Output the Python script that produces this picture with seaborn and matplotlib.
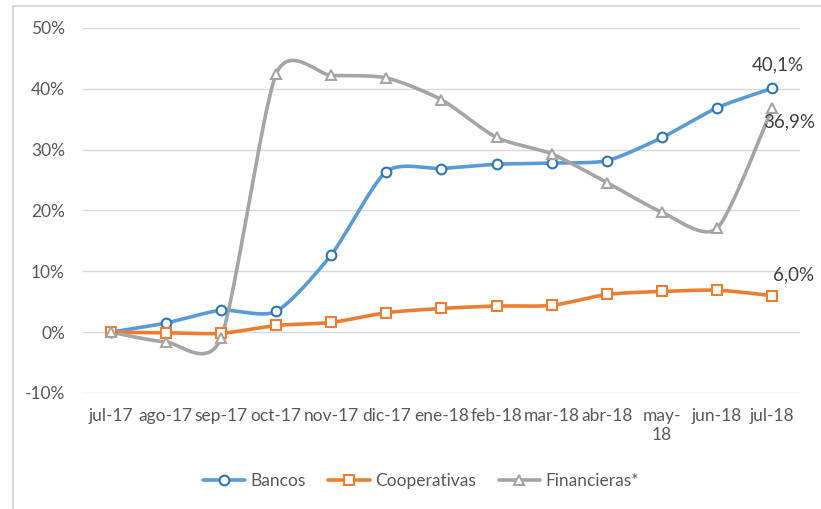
import matplotlib
matplotlib.use("Agg")
import matplotlib.pyplot as plt
import numpy as np
import pandas as pd
import seaborn as sns
from matplotlib.lines import Line2D
from matplotlib.patches import Rectangle
from matplotlib.ticker import FuncFormatter

# Data (percent change vs jul-17)
months = ['jul-17', 'ago-17', 'sep-17', 'oct-17', 'nov-17', 'dic-17', 'ene-18',
          'feb-18', 'mar-18', 'abr-18', 'may-\n18', 'jun-18', 'jul-18']
bancos = [0.0, 1.5, 3.6, 3.4, 12.7, 26.4, 26.9, 27.6, 27.8, 28.2, 32.0, 36.9, 40.1]
cooperativas = [0.0, -0.1, -0.2, 1.1, 1.6, 3.2, 3.9, 4.3, 4.4, 6.2, 6.7, 6.9, 6.0]
financieras = [0.0, -1.6, -1.0, 42.4, 42.2, 41.8, 38.2, 32.0, 29.3, 24.6, 19.7, 17.1, 36.9]

series = {'Bancos': bancos, 'Cooperativas': cooperativas, 'Financieras*': financieras}
colors = {'Bancos': '#5B9BD5', 'Cooperativas': '#ED7D31', 'Financieras*': '#A5A5A5'}
edges = {'Bancos': '#2E75B6', 'Cooperativas': '#ED7D31', 'Financieras*': '#A5A5A5'}
markers = {'Bancos': 'o', 'Cooperativas': 's', 'Financieras*': '^'}


def smooth(y, k=0.12, n=40):
    # bezier smoothing similar to excel's "smoothed line"
    y = np.asarray(y, dtype=float)
    x = np.arange(len(y), dtype=float)
    px = np.concatenate([[x[0]], x, [x[-1]]])
    py = np.concatenate([[y[0]], y, [y[-1]]])
    xs, ys = [], []
    t = np.linspace(0, 1, n)
    for i in range(len(y) - 1):
        j = i + 1
        p0 = np.array([px[j], py[j]])
        p1 = np.array([px[j + 1], py[j + 1]])
        b1 = p0 + k * (p1 - np.array([px[j - 1], py[j - 1]]))
        b2 = p1 - k * (np.array([px[j + 2], py[j + 2]]) - p0)
        pts = (((1 - t) ** 3)[:, None] * p0 + (3 * (1 - t) ** 2 * t)[:, None] * b1
               + (3 * (1 - t) * t ** 2)[:, None] * b2 + (t ** 3)[:, None] * p1)
        xs.extend(pts[:, 0])
        ys.extend(pts[:, 1])
    return np.array(xs), np.array(ys)


sns.set_style('white')
plt.rcParams['font.family'] = ['Lato', 'DejaVu Sans']

fig = plt.figure(figsize=(8.21, 5.09), dpi=100)
ax = fig.add_axes([0.1011, 0.2279, 0.8733, 0.7171])

for name, vals in series.items():
    sx, sy = smooth(vals)
    curve = pd.DataFrame({'x': sx, 'y': sy})
    sns.lineplot(data=curve, x='x', y='y', sort=False, estimator=None, ax=ax,
                 color=colors[name], linewidth=2.6, zorder=2)
    ax.plot(np.arange(len(vals)), vals, linestyle='none', marker=markers[name],
            markersize=7 if name != 'Financieras*' else 7.5, markerfacecolor='white',
            markeredgecolor=edges[name], markeredgewidth=1.5, zorder=3)

ax.set_xlim(-0.5, len(months) - 0.5)
ax.set_ylim(-10, 50)
ax.set_yticks(range(-10, 51, 10))
ax.yaxis.set_major_formatter(FuncFormatter(lambda v, p: f'{v:.0f}%'))
ax.set_xticks(range(len(months)))
ax.set_xticklabels(months)
ax.set_xlabel('')
ax.set_ylabel('')
ax.grid(axis='y', color='#D9D9D9', linewidth=1)
ax.grid(axis='x', visible=False)
for s in ax.spines.values():
    s.set_visible(False)
ax.tick_params(axis='both', length=0, labelsize=12.5, labelcolor='#595959')
ax.tick_params(axis='y', pad=13)
ax.tick_params(axis='x', pad=11)

# data labels on last points
last = len(months) - 1
ax.annotate(f"{bancos[-1]:.1f}%".replace('.', ','), (last, bancos[-1]),
            xytext=(4, 17), textcoords='offset points', ha='center', va='center',
            fontsize=13.5, color='#404040')
ax.annotate(f"{financieras[-1]:.1f}%".replace('.', ','), (last, financieras[-1]),
            xytext=(12, -10), textcoords='offset points', ha='center', va='center',
            fontsize=13.5, color='#404040')
ax.annotate(f"{cooperativas[-1]:.1f}%".replace('.', ','), (last, cooperativas[-1]),
            xytext=(15, 15), textcoords='offset points', ha='center', va='center',
            fontsize=13.5, color='#404040')

handles = [Line2D([0], [0], color=colors[n], linewidth=2.6, marker=markers[n],
                  markersize=7, markerfacecolor='white', markeredgecolor=edges[n],
                  markeredgewidth=1.5) for n in series]
fig.legend(handles, list(series.keys()), loc='center', bbox_to_anchor=(0.513, 0.055),
           ncol=3, frameon=False, fontsize=12.5, labelcolor='#595959',
           handlelength=2.4, handletextpad=0.3, columnspacing=1.3)

fig.patches.append(Rectangle((13 / 821, -0.1), 1.2, 1.1 - 6 / 509, transform=fig.transFigure,
                             fill=False, edgecolor='#D9D9D9', linewidth=1.5))

fig.savefig('out.png', dpi=100)
